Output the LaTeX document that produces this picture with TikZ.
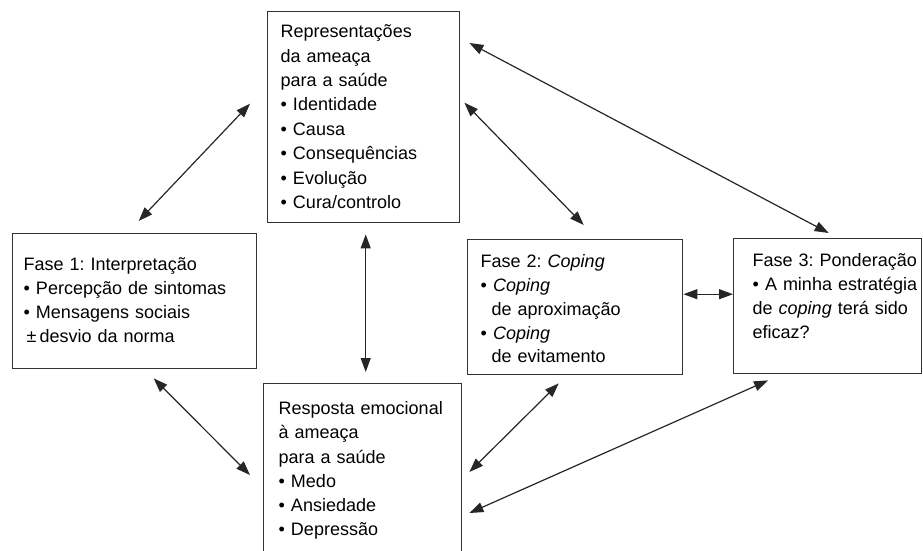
\documentclass[tikz,border=0pt]{standalone}
\usepackage{fontspec}
\setmainfont{Liberation Sans}
\usetikzlibrary{arrows.meta}
\hfuzz=30pt
\frenchspacing

\begin{document}
\begin{tikzpicture}[
                x=1pt, y=-1pt,
                block/.style={draw=black!80, line width=1.4pt, anchor=north west, align=left,
                    text height=12.5pt, font=\fontsize{18}{23.8}\selectfont},
                arrow/.style={{Triangle[length=14pt,width=10pt]}-{Triangle[length=14pt,width=10pt]},
                    line width=1.2pt, draw=black!85}
            ]

            \useasboundingbox (0,0) rectangle (923,551);
            \clip (0,0) rectangle (923,551);

            \node[block, text width=166pt, inner xsep=13pt, inner ysep=13.5pt, text depth=171.5pt,
                font=\fontsize{18}{24.4}\selectfont] (ameaca) at (267,11)
                {Representações\\da ameaça\\para a saúde\\• Identidade\\• Causa\\• Consequências\\• Evolução\\• Cura/controlo};

            \node[block, text width=222pt, inner xsep=11pt, inner ysep=24.5pt, text depth=73.5pt] (interp) at (12,233)
                {Fase 1: Interpretação\\• Percepção de sintomas\\• Mensagens sociais\\\hspace*{3pt}±\,desvio da norma};

            \node[block, text width=189pt, inner xsep=13pt, inner ysep=15.5pt, text depth=91.5pt] (coping) at (467,239)
                {Fase 2: \emph{Coping}\\• \emph{Coping}\\\hspace*{11pt}de aproximação\\• \emph{Coping}\\\hspace*{11pt}de evitamento};

            \node[block, text width=150pt, inner xsep=19pt, inner ysep=15.5pt, text depth=91.5pt] (ponder) at (733,238)
                {\mbox{Fase 3: Ponderação}\\\mbox{• A minha estratégia}\\\mbox{de \emph{coping} terá sido}\\eficaz?};

            \node[block, text width=168pt, inner xsep=15pt, inner ysep=18.5pt, text depth=127.5pt,
                font=\fontsize{18}{24.2}\selectfont] (emocao) at (263,383)
                {Resposta emocional\\à ameaça\\para a saúde\\• Medo\\• Ansiedade\\• Depressão};

            \draw[arrow] ([shift={(4,-12)}]interp.north) -- ([shift={(-17,-13.5)}]ameaca.west);
            \draw[arrow] ([shift={(4,-14.5)}]ameaca.east) -- ([shift={(8.5,-14)}]coping.north);
            \draw[arrow] ([shift={(9,32)}]ameaca.north east) -- ([shift={(1,-5)}]ponder.north);
            \draw[arrow] ([shift={(2,11)}]ameaca.south) -- ([shift={(3,-11)}]emocao.north);
            \draw[arrow] ([shift={(19,9)}]interp.south) -- ([shift={(-13,92)}]emocao.north west);
            \draw[arrow] ([shift={(0,-13)}]coping.east) -- ([shift={(0,-12)}]ponder.west);
            \draw[arrow] ([shift={(-16.5,8)}]coping.south) -- ([shift={(7,89)}]emocao.north east);
            \draw[arrow] ([shift={(35,6)}]ponder.south west) -- ([shift={(7,130)}]emocao.north east);

\end{tikzpicture}
\end{document}
